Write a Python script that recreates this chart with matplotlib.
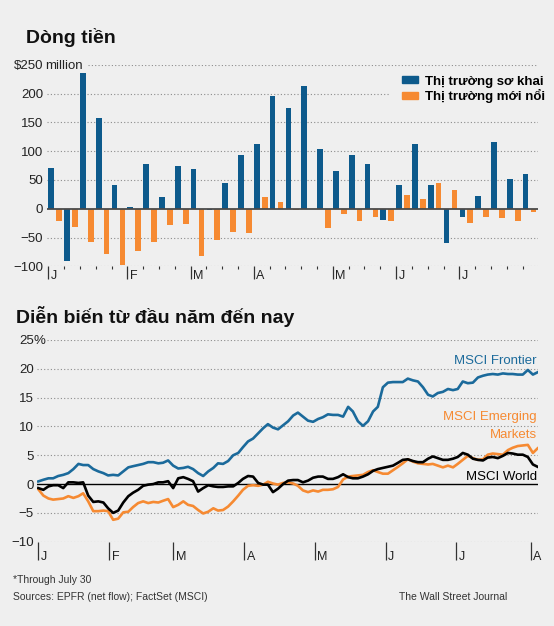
import numpy as np
import matplotlib
matplotlib.use('Agg')
import matplotlib.pyplot as plt
from matplotlib.patches import Patch

# ---- weekly fund flows, $ million (Jan -> end of July)
frontier_flow = [71, -91, 236, 157, 41, 3, 77, 21, 74, 69, -3, 44, 94, 112, 196,
                 175, 213, 104, 66, 93, 77, -20, 41, 113, 42, -60, -15, 22, 116, 51, 60]
emerging_flow = [-21, -32, -57, -78, -97, -73, -58, -28, -27, -82, -54, -40, -43, 21, 11,
                 -2, 0, -34, -9, -21, -14, -21, 24, 17, 44, 33, -24, -14, -16, -21, -5]
flow_ticks = [-100, -50, 0, 50, 100, 150, 200, 250]
flow_labels = ['\u2212100', '\u221250', '0', '50', '100', '150', '200', '$250']
week_month_pos = [0, 5, 9, 13, 18, 22, 26]
week_month_lab = ['J', 'F', 'M', 'A', 'M', 'J', 'J']

# ---- year-to-date performance, % (x = trading day of the year)
sample_day = [0, 1.5, 3.0, 4.4, 5.9, 7.4, 8.9, 10.4, 11.9, 13.3,
              14.8, 16.3, 17.8, 19.3, 20.7, 22.2, 23.7, 25.2, 26.7, 28.1,
              29.6, 31.1, 32.6, 34.1, 35.6, 37.0, 38.5, 40.0, 41.5, 43.0,
              44.4, 45.9, 47.4, 48.9, 50.4, 51.9, 53.3, 54.8, 56.3, 57.8,
              59.3, 60.7, 62.2, 63.7, 65.2, 66.7, 68.1, 69.6, 71.1, 72.6,
              74.1, 75.6, 77.0, 78.5, 80.0, 81.5, 83.0, 84.4, 85.9, 87.4,
              88.9, 90.4, 91.9, 93.3, 94.8, 96.3, 97.8, 99.3, 100.7, 102.2,
              103.7, 105.2, 106.7, 108.1, 109.6, 111.1, 112.6, 114.1, 115.6, 117.0,
              118.5, 120.0, 121.5, 123.0, 124.4, 125.9, 127.4, 128.9, 130.4, 131.9,
              133.3, 134.8, 136.3, 137.8, 139.3, 140.7, 142.2, 143.7, 145.2, 146.7,
              148.1]
msci_frontier = [0.46, 0.75, 1.0, 1.0, 1.4, 1.6, 1.9, 2.6, 3.5, 3.3,
                 3.3, 2.6, 2.2, 1.9, 1.5, 1.6, 1.5, 2.2, 2.9, 3.1,
                 3.3, 3.5, 3.8, 3.8, 3.6, 3.7, 4.1, 3.2, 2.7, 2.8,
                 3.0, 2.6, 1.9, 1.4, 2.2, 2.8, 3.6, 3.5, 4.0, 5.0,
                 5.4, 6.4, 7.4, 7.9, 8.8, 9.7, 10.4, 9.8, 9.5, 10.2,
                 10.9, 11.9, 12.4, 11.7, 11.0, 10.8, 11.3, 11.6, 12.1, 12.0,
                 12.0, 11.7, 13.4, 12.6, 10.9, 10.1, 10.9, 12.6, 13.4, 16.8,
                 17.6, 17.7, 17.7, 17.7, 18.3, 18.0, 17.8, 16.8, 15.5, 15.2,
                 15.8, 16.0, 16.5, 16.3, 16.5, 17.8, 17.5, 17.6, 18.5, 18.8,
                 19.0, 19.1, 19.0, 19.2, 19.1, 19.1, 19.0, 19.0, 19.8, 19.0,
                 19.4]
msci_emerging = [-0.9, -2.0, -2.5, -2.7, -2.6, -2.5, -2.1, -2.4, -2.1, -1.6,
                 -3.0, -4.7, -4.7, -4.6, -4.7, -6.2, -6.0, -4.9, -4.8, -4.0,
                 -3.3, -3.0, -3.3, -3.1, -3.2, -2.9, -2.6, -4.0, -3.6, -3.0,
                 -3.6, -3.8, -4.5, -5.1, -4.8, -4.2, -4.6, -4.5, -3.9, -3.0,
                 -2.0, -1.0, -0.3, -0.2, -0.3, -0.1, 0.4, 0.1, -0.1, 0.2,
                 0.3, 0.1, -0.3, -1.1, -1.4, -1.1, -1.3, -1.0, -1.0, -0.9,
                 -0.5, 0.8, 1.3, 1.4, 1.5, 1.6, 2.1, 2.4, 2.1, 1.8,
                 1.8, 2.4, 3.0, 3.6, 4.3, 3.9, 3.6, 3.5, 3.4, 3.5,
                 3.2, 2.9, 3.2, 2.9, 3.5, 4.2, 4.9, 4.5, 4.2, 4.3,
                 5.1, 5.3, 5.2, 5.1, 5.9, 6.3, 6.6, 6.7, 6.8, 5.4,
                 6.2]
msci_world = [-0.7, -1.0, -0.4, -0.2, -0.2, -0.7, 0.3, 0.3, 0.2, 0.3,
              -2.0, -3.1, -3.0, -3.2, -4.2, -5.0, -4.6, -3.2, -2.1, -1.5,
              -1.0, -0.3, -0.1, 0.0, 0.3, 0.3, 0.5, -0.7, 1.0, 1.2,
              0.9, 0.5, -1.3, -0.7, -0.2, -0.4, -0.5, -0.5, -0.4, -0.4,
              0.2, 0.9, 1.4, 1.3, 0.2, -0.1, -0.1, -1.4, -0.8, 0.0,
              0.6, 0.7, 0.7, 0.3, 0.6, 1.1, 1.3, 1.3, 0.9, 0.9,
              1.2, 1.7, 1.2, 1.0, 1.0, 1.3, 1.7, 2.3, 2.6, 2.8,
              3.0, 3.2, 3.7, 4.2, 4.3, 4.0, 3.8, 3.8, 4.4, 4.8,
              4.5, 4.2, 4.2, 4.4, 4.7, 5.4, 5.1, 4.4, 4.2, 4.1,
              4.6, 4.7, 4.5, 4.9, 5.4, 5.3, 5.1, 5.1, 4.7, 3.4,
              3.0]
perf_ticks = [-10, -5, 0, 5, 10, 15, 20, 25]
perf_labels = ['\u221210', '\u22125', '0', '5', '10', '15', '20', '25']
day_month_pos = [0, 21, 40, 61, 82, 103, 124, 146]
day_month_lab = ['J', 'F', 'M', 'A', 'M', 'J', 'J', 'A']

BG = '#efefef'
BLUE = '#0d5a8c'
LBLUE = '#1b6a9b'
ORANGE = '#f68a32'
GRID = '#8c8c8c'
DOTS = (0, (1, 2))

plt.rcParams['font.family'] = ['Liberation Sans', 'DejaVu Sans']

W, H = 554, 626
fig = plt.figure(figsize=(W / 100, H / 100), dpi=100, facecolor=BG)


def fx(px):
    return px / W


def fy(py):
    return 1 - py / H


# ================= top panel: flows =================
ax1 = fig.add_axes([fx(46.7), fy(266.3), fx(538.4 - 46.7), (266.3 - 64.7) / H])
ax1.set_facecolor(BG)
ax1.set_xlim(-0.1, 31)
ax1.set_ylim(-100, 250)
for s in ax1.spines.values():
    s.set_visible(False)

for v in flow_ticks:
    if v == 0:
        continue
    # top line starts after the "million" unit, legend covers the 200 line
    xmin = 0.085 if v == 250 else 0
    xmax = 0.698 if v == 200 else 1
    ax1.axhline(v, xmin=xmin, xmax=xmax, color=GRID, lw=0.8, ls=DOTS, zorder=0)
ax1.axhline(0, color='#4a4a4a', lw=1.3, zorder=3)

weeks = np.arange(len(frontier_flow))
ax1.bar(weeks + 0.19, frontier_flow, 0.36, color=BLUE, zorder=2)
ax1.bar(weeks + 0.69, emerging_flow, 0.36, color=ORANGE, zorder=2)

ax1.set_yticks(flow_ticks)
ax1.set_yticklabels(flow_labels)
ax1.tick_params(axis='y', length=0, pad=2.7, labelsize=9.5, labelcolor='#222222')
ax1.annotate('million', xy=(0, 250), xycoords=('axes fraction', 'data'),
             xytext=(-1.2, 0), textcoords='offset points', ha='left', va='center_baseline',
             fontsize=9.5, color='#222222')

minor = [w for w in range(1, 31) if w not in week_month_pos]
ax1.set_xticks(week_month_pos)
ax1.set_xticks(minor, minor=True)
ax1.tick_params(axis='x', which='major', length=9.4, width=0.9, color='#333333', labelbottom=False)
ax1.tick_params(axis='x', which='minor', length=2.2, width=0.8, color='#333333')
for x, lab in zip(week_month_pos, week_month_lab):
    ax1.annotate(lab, xy=(x, 0), xycoords=('data', 'axes fraction'), xytext=(1.8, -9.4),
                 textcoords='offset points', ha='left', va='baseline', fontsize=9, color='#222222')

ax1.legend(handles=[Patch(color=BLUE, label='Thị trường sơ khai'),
                    Patch(color=ORANGE, label='Thị trường mới nổi')],
           loc='upper left', bbox_to_anchor=(fx(401.7), fy(75.5)), bbox_transform=fig.transFigure,
           frameon=False, borderpad=0, borderaxespad=0, handlelength=1.26, handleheight=0.45,
           handletextpad=0.5, labelspacing=0.12, prop={'weight': 'bold', 'size': 9.5})

# ================= bottom panel: performance =================
ax2 = fig.add_axes([fx(37.3), fy(541.7), fx(501), (541.7 - 340) / H])
ax2.set_facecolor(BG)
ax2.set_xlim(-0.3, 148.3)
ax2.set_ylim(-10, 25)
for s in ax2.spines.values():
    s.set_visible(False)

for v in perf_ticks:
    if v != 0:
        xmin = 0.02 if v == 25 else 0
        ax2.axhline(v, xmin=xmin, color=GRID, lw=0.8, ls=DOTS, zorder=0)
ax2.axhline(0, color='black', lw=1.0, zorder=1)

ax2.plot(sample_day, msci_emerging, color=ORANGE, lw=1.9, zorder=3, solid_joinstyle='round')
ax2.plot(sample_day, msci_world, color='black', lw=1.9, zorder=4, solid_joinstyle='round')
ax2.plot(sample_day, msci_frontier, color=LBLUE, lw=1.9, zorder=5, solid_joinstyle='round')

ax2.set_yticks(perf_ticks)
ax2.set_yticklabels(perf_labels)
ax2.tick_params(axis='y', length=0, pad=2.4, labelsize=9.5, labelcolor='#222222')
ax2.annotate('%', xy=(0, 25), xycoords=('axes fraction', 'data'),
             xytext=(-2.7, 0), textcoords='offset points', ha='left', va='center_baseline',
             fontsize=9.5, color='#222222')

ax2.set_xticks(day_month_pos)
ax2.tick_params(axis='x', length=13, width=0.9, color='#333333', labelbottom=False)
for x, lab in zip(day_month_pos, day_month_lab):
    ax2.annotate(lab, xy=(x, 0), xycoords=('data', 'axes fraction'), xytext=(1.8, -13),
                 textcoords='offset points', ha='left', va='baseline', fontsize=9, color='#222222')

tr = ax2.get_yaxis_transform()
ax2.text(0.9974, 21.4, 'MSCI Frontier', transform=tr, ha='right', va='center',
         fontsize=9.5, color=LBLUE)
ax2.text(0.9974, 11.6, 'MSCI Emerging', transform=tr, ha='right', va='center',
         fontsize=9.5, color=ORANGE)
ax2.text(0.9974, 8.6, 'Markets', transform=tr, ha='right', va='center',
         fontsize=9.5, color=ORANGE)
ax2.text(0.9974, 1.3, 'MSCI World', transform=tr, ha='right', va='center',
         fontsize=9.5, color='black')

# ================= titles & footer =================
fig.text(fx(26), fy(43), 'Dòng tiền', fontsize=14, fontweight='bold', va='baseline', color='#111111')
fig.text(fx(16), fy(323), 'Diễn biến từ đầu năm đến nay', fontsize=14, fontweight='bold',
         va='baseline', color='#111111')
fig.text(fx(13), fy(583), '*Through July 30', fontsize=7.5, va='baseline', color='#333333')
fig.text(fx(13), fy(600), 'Sources: EPFR (net flow); FactSet (MSCI)', fontsize=7.5,
         va='baseline', color='#333333')
fig.text(fx(507), fy(600), 'The Wall Street Journal', fontsize=7.5, ha='right',
         va='baseline', color='#333333')

fig.savefig('out.png', dpi=100, facecolor=BG)
